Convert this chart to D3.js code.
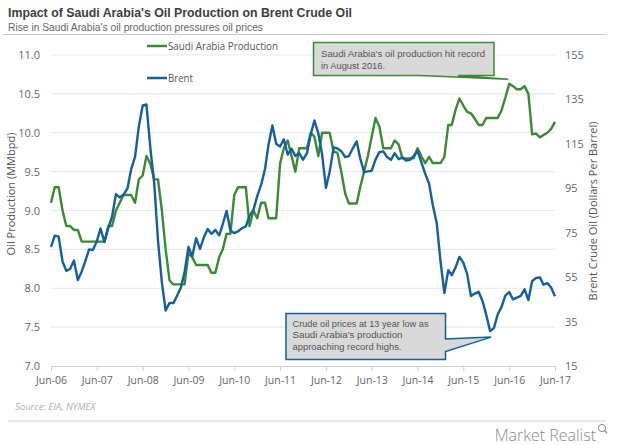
<!DOCTYPE html>
<html>
<head>
<meta charset="utf-8">
<script src="https://cdn.jsdelivr.net/npm/d3@7/dist/d3.min.js"></script>
<style>
  html, body { margin: 0; padding: 0; background: #ffffff; }
  svg { display: block; font-family: "Open Sans", "Noto Sans", sans-serif; }
</style>
</head>
<body>
<svg id="chart" width="620" height="445"></svg>
<script>
// ---------------- DATA ----------------
const startMonth = "2006-06";
const endMonth = "2017-06";

// Saudi Arabia crude oil production, MMbpd, monthly Jun-06 .. Jun-17
const saudiProduction = [
  9.1, 9.3, 9.3, 9.0, 8.8, 8.8, 8.75,                      // Jun-Dec 06
  8.75, 8.6, 8.6, 8.6, 8.6, 8.6, 8.6, 8.6, 8.8, 8.8, 9.0, 9.1, // 07
  9.2, 9.2, 9.2, 9.1, 9.4, 9.45, 9.7, 9.6, 9.4, 9.4, 9.0, 8.5, // 08
  8.1, 8.05, 8.05, 8.05, 8.05, 8.45, 8.4, 8.3, 8.3, 8.3, 8.3, 8.2, // 09
  8.2, 8.4, 8.5, 8.7, 8.7, 9.2, 9.3, 9.3, 9.3, 8.8, 9.0, 8.9, // 10
  9.1, 9.1, 8.9, 8.9, 8.9, 9.6, 9.8, 9.9, 9.7, 9.5, 9.8, 9.8, // 11
  9.8, 10.0, 9.95, 9.7, 10.0, 10.0, 10.0, 9.76, 9.74, 9.5, 9.22, 9.09, // 12
  9.09, 9.09, 9.3, 9.5, 9.7, 9.95, 10.19, 10.08, 9.8, 9.8, 9.8, 9.9, // 13
  9.85, 9.67, 9.67, 9.67, 9.67, 9.8, 9.7, 9.61, 9.69, 9.61, 9.61, 9.61, // 14
  9.69, 10.1, 10.1, 10.3, 10.44, 10.35, 10.27, 10.25, 10.18, 10.1, 10.1, 10.19, // 15
  10.19, 10.19, 10.19, 10.29, 10.45, 10.63, 10.6, 10.56, 10.56, 10.6, 10.5, 9.98, // 16
  9.99, 9.94, 9.97, 10.0, 10.05, 10.14                      // Jan-Jun 17
];

// Brent crude oil, $/barrel, monthly Jun-06 .. Jun-17
const brentPrice = [
  68.6, 73.7, 73.2, 62.0, 57.8, 58.8, 62.5,
  53.7, 57.6, 62.1, 67.5, 67.2, 71.1, 76.9, 70.8, 77.2, 82.3, 92.4, 90.9,
  92.2, 95.0, 103.6, 109.1, 122.8, 132.3, 132.7, 113.2, 97.2, 71.6, 52.5, 40.0,
  43.4, 43.3, 46.5, 50.2, 57.3, 68.6, 64.4, 72.5, 67.7, 72.8, 76.7, 74.5,
  76.2, 73.8, 78.8, 84.8, 76.0, 74.8, 75.6, 77.0, 77.8, 82.7, 85.3, 91.5,
  96.5, 103.7, 114.6, 123.3, 115.0, 113.8, 117.0, 110.2, 112.8, 109.6, 110.8, 107.9,
  110.7, 119.3, 125.5, 119.8, 110.3, 95.2, 102.6, 113.4, 112.9, 111.7, 109.1, 109.5,
  113.0, 116.1, 108.5, 102.3, 102.6, 102.9, 107.9, 111.3, 111.6, 109.1, 107.8, 110.8,
  108.1, 108.9, 107.5, 107.8, 109.5, 111.8, 106.8, 101.6, 97.1, 87.4, 79.4, 62.3,
  47.8, 58.1, 55.9, 59.5, 64.1, 61.5, 56.6, 46.5, 47.6, 48.4, 44.3, 38.0,
  30.7, 32.2, 38.2, 41.6, 46.7, 48.3, 45.0, 45.8, 46.6, 49.5, 44.7, 53.3,
  54.6, 54.9, 51.6, 52.3, 50.3, 46.4
];

const xTickLabels = ["Jun-06","Jun-07","Jun-08","Jun-09","Jun-10","Jun-11",
                     "Jun-12","Jun-13","Jun-14","Jun-15","Jun-16","Jun-17"];
const leftTicks = [7.0, 7.5, 8.0, 8.5, 9.0, 9.5, 10.0, 10.5, 11.0];
const rightTicks = [15, 35, 55, 75, 95, 115, 135, 155];

const seriesNames = ["Saudi Arabia Production", "Brent"];
const titleText = "Impact of Saudi Arabia's Oil Production on Brent Crude Oil";
const subtitleText = "Rise in Saudi Arabia's oil production pressures oil prices";
const leftAxisTitle = "Oil Production (MMbpd)";
const rightAxisTitle = "Brent Crude Oil (Dollars Per Barrel)";
const sourceText = "Source: EIA, NYMEX";
const note1 = ["Saudi Arabia's  oil production hit record", "in August 2016."];
const note2 = ["Crude oil prices at 13 year low as", "Saudi Arabia's  production", "approaching record highs."];
const note2Month = "2016-01";

// ---------------- SETUP ----------------
const parseMonth = d3.timeParse("%Y-%m");
const start = parseMonth(startMonth);
const months = d3.range(saudiProduction.length).map(i => d3.timeMonth.offset(start, i));
const fmtTick = d3.timeFormat("%b-%y");
const tickDates = xTickLabels.map(l => d3.timeParse("%b-%y")(l));

const GREEN = "#3a8a33";
const BLUE = "#135f9f";
const TXT = "#666666";
const NOTE_FONT = "'Liberation Sans', Arial, sans-serif";

const svg = d3.select("#chart");
const x = d3.scaleTime().domain([start, parseMonth(endMonth)]).range([51, 555]);
const yL = d3.scaleLinear().domain([7, 11]).range([366, 55]);
const yR = d3.scaleLinear().domain([15, 155]).range([366, 55]);

// helper: fit text to a measured width
function fitText(sel, w) {
  return sel.attr("textLength", w).attr("lengthAdjust", "spacingAndGlyphs");
}

// Title & subtitle
fitText(svg.append("text").attr("x", 8).attr("y", 17)
  .attr("font-size", 13.5).attr("font-weight", 700).attr("fill", "#3d3d3d")
  .attr("font-family", NOTE_FONT)
  .text(titleText), 344);
fitText(svg.append("text").attr("x", 8).attr("y", 30.5)
  .attr("font-size", 11).attr("fill", "#666")
  .attr("font-family", NOTE_FONT)
  .text(subtitleText), 255);
svg.append("line").attr("x1", 3).attr("x2", 606).attr("y1", 34.5).attr("y2", 34.5)
  .attr("stroke", "#c8c8c8").attr("stroke-width", 1.2);

// Gridlines
svg.append("g").selectAll("line").data(leftTicks.filter(t => t > 7)).join("line")
  .attr("x1", 51).attr("x2", 555)
  .attr("y1", d => yL(d)).attr("y2", d => yL(d))
  .attr("stroke", "#e9e9e9").attr("stroke-width", 1.2);

// Left axis
const gL = svg.append("g").attr("transform", "translate(51,0)")
  .call(d3.axisLeft(yL).tickValues(leftTicks).tickFormat(d3.format(".1f")).tickSize(0).tickPadding(11));
gL.select(".domain").remove();
gL.selectAll("text").attr("fill", TXT).attr("font-size", 11).attr("font-family", "Open Sans");

// Right axis
const gR = svg.append("g").attr("transform", "translate(555,0)")
  .call(d3.axisRight(yR).tickValues(rightTicks).tickSize(0).tickPadding(10));
gR.select(".domain").remove();
gR.selectAll("text").attr("fill", TXT).attr("font-size", 11).attr("font-family", "Open Sans");

// Bottom axis
const gB = svg.append("g").attr("transform", "translate(0,366)")
  .call(d3.axisBottom(x).tickValues(tickDates).tickFormat(fmtTick).tickSize(5).tickSizeOuter(0).tickPadding(6));
gB.select(".domain").attr("stroke", "#d0d0d0").attr("stroke-width", 1.2);
gB.selectAll(".tick line").attr("stroke", "#d0d0d0");
gB.selectAll("text").attr("fill", TXT).attr("font-size", 10.5).attr("font-family", "Open Sans");

// Axis titles
svg.append("text").attr("transform", "translate(15,194) rotate(-90)")
  .attr("text-anchor", "middle").attr("font-size", 11).attr("fill", "#555")
  .text(leftAxisTitle);
svg.append("text").attr("transform", "translate(597,211) rotate(-90)")
  .attr("text-anchor", "middle").attr("font-size", 11).attr("fill", "#555")
  .text(rightAxisTitle);

// Lines
const saudiData = months.map((m, i) => ({ m, v: saudiProduction[i] }));
const brentData = months.map((m, i) => ({ m, v: brentPrice[i] }));
svg.append("path").datum(saudiData)
  .attr("fill", "none").attr("stroke", GREEN).attr("stroke-width", 2.4)
  .attr("stroke-linejoin", "round")
  .attr("d", d3.line().x(d => x(d.m)).y(d => yL(d.v)));
svg.append("path").datum(brentData)
  .attr("fill", "none").attr("stroke", BLUE).attr("stroke-width", 2.4)
  .attr("stroke-linejoin", "round")
  .attr("d", d3.line().x(d => x(d.m)).y(d => yR(d.v)));

// Legend
const legendY = [46, 78];
const legendW = [110, 25];
const legendColors = [GREEN, BLUE];
seriesNames.forEach((name, i) => {
  svg.append("line").attr("x1", 147).attr("x2", 167)
    .attr("y1", legendY[i]).attr("y2", legendY[i])
    .attr("stroke", legendColors[i]).attr("stroke-width", 2.5);
  fitText(svg.append("text").attr("x", 168).attr("y", legendY[i] + 4)
    .attr("font-size", 11).attr("fill", "#555").text(name), legendW[i]);
});

// Annotation 1 (green) - points at record production
const peakIdx = d3.maxIndex(saudiProduction);
const t1 = [x(months[peakIdx]) - 1, yL(saudiProduction[peakIdx]) - 4.5];
svg.append("path")
  .attr("d", `M313.5,42.5 H494 V75.5 H458 L${t1[0]},${t1[1]} L420,75.5 H313.5 Z`)
  .attr("fill", "#d9d9d9").attr("stroke", GREEN).attr("stroke-width", 1.5);
const note1W = [164, 64];
note1.forEach((s, i) => {
  fitText(svg.append("text").attr("x", 321).attr("y", 57 + i * 11.6)
    .attr("font-size", 9.7).attr("font-family", NOTE_FONT).attr("fill", "#555").text(s), note1W[i]);
});

// Annotation 2 (blue)
const i2 = months.findIndex(m => +m === +parseMonth(note2Month));
const t2 = [x(months[i2]) + 1, yR(brentPrice[i2]) + 6];
svg.append("path")
  .attr("d", `M286,313.5 H445.5 V339 L${t2[0]},${t2[1]} L445.5,351.5 V359.5 H286 Z`)
  .attr("fill", "#d9d9d9").attr("stroke", BLUE).attr("stroke-width", 1.5);
const note2W = [136, 110, 109];
note2.forEach((s, i) => {
  fitText(svg.append("text").attr("x", 292.5).attr("y", 327 + i * 11.4)
    .attr("font-size", 9.7).attr("font-family", NOTE_FONT).attr("fill", "#555").text(s), note2W[i]);
});

// Footer
svg.append("text").attr("x", 15).attr("y", 410)
  .attr("font-size", 9.5).attr("font-style", "italic").attr("fill", "#b0b0b0")
  .text(sourceText);
svg.append("line").attr("x1", 8).attr("x2", 606).attr("y1", 421).attr("y2", 421)
  .attr("stroke", "#d0d0d0").attr("stroke-width", 1.2);
svg.append("text").attr("x", 596).attr("y", 441).attr("text-anchor", "end")
  .attr("font-size", 16).attr("font-weight", 300).attr("fill", "#8a8a8a")
  .attr("font-family", "Open Sans")
  .text("Market Realist");
svg.append("circle").attr("cx", 602).attr("cy", 428).attr("r", 3.6)
  .attr("fill", "none").attr("stroke", "#8a8a8a").attr("stroke-width", 1);
svg.append("line").attr("x1", 604.5).attr("y1", 430.5).attr("x2", 607).attr("y2", 433)
  .attr("stroke", "#8a8a8a").attr("stroke-width", 1.2);
</script>
</body>
</html>
